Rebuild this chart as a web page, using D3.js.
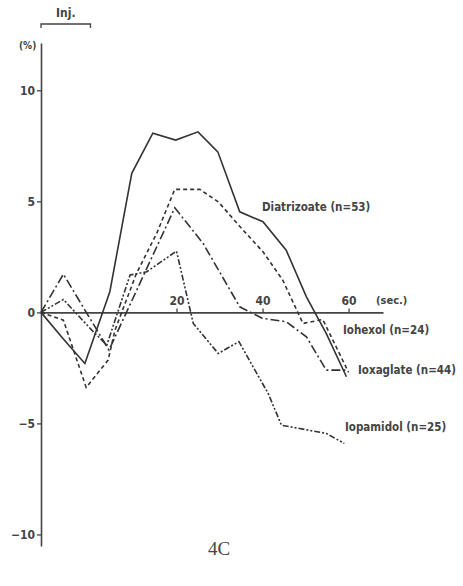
<!DOCTYPE html>
<html>
<head>
<meta charset="utf-8">
<script src="https://cdn.jsdelivr.net/npm/d3@7"></script>
<style>
  body { margin: 0; background: #fff; }
  text { font-family: "Liberation Sans Narrow", "DejaVu Sans Condensed", "Liberation Sans", sans-serif; font-weight: bold; fill: #444; }
</style>
</head>
<body>
<div id="chart"></div>
<script>
// time (sec.) and change (%)
var diatrizoateT = [-11.5, -6.3, -1.3, 4.5, 9.6, 14.5, 19.8, 25, 29.6, 34.7, 40.1, 45.5, 50.2, 54.8, 59.5]
var diatrizoateV = [0, -1.2, -2.3, 0.93, 6.26, 8.07, 7.76, 8.13, 7.23, 4.53, 4.08, 2.8, 0.7, -0.95, -2.9]

var iohexolT = [-11.5, -6.3, -1.0, 4.1, 5.7, 10.7, 15.4, 19.6, 25.4, 29.7, 35.5, 40.1, 44.7, 49.4, 54.0, 60.0]
var iohexolV = [0, -0.35, -3.38, -2.15, -0.8, 1.76, 3.56, 5.54, 5.54, 4.98, 3.7, 2.73, 1.45, -0.5, -0.32, -2.7]

var ioxaglateT = [-11.5, -6.3, 4.3, 19.6, 26.2, 34.7, 40.0, 45.5, 50.2, 54.8, 59.5]
var ioxaglateV = [0, 1.72, -1.7, 4.71, 3.1, 0.25, -0.27, -0.42, -1.1, -2.6, -2.6]

var iopamidolT = [-11.5, -6.3, 0.3, 3.8, 9.2, 13.1, 20.0, 23.9, 29.7, 34.5, 41.3, 44.4, 54.8, 59.0]
var iopamidolV = [0, 0.58, -0.8, -1.47, 1.68, 1.83, 2.76, -0.5, -1.85, -1.32, -3.65, -5.08, -5.45, -5.9]

var seriesNames = ["Diatrizoate (n=53)", "Iohexol (n=24)", "Ioxaglate (n=44)", "Iopamidol (n=25)"]
var yTicks = [-10, -5, 0, 5, 10]
var xTicks = [20, 40, 60]

var width = 463, height = 586

var svg = d3.select("#chart").append("svg")
    .attr("width", width)
    .attr("height", height)

// scales (the y axis sits a bit before injection end, at about -11.5 sec)
var x = d3.scaleLinear().domain([-11.5, 68]).range([41, 383])
var y = d3.scaleLinear().domain([-10.52, 12.13]).range([546, 43])

// y axis
var yAxis = svg.append("g")
    .attr("transform", "translate(" + x(-11.5) + ",0)")
    .call(d3.axisLeft(y).tickValues(yTicks).tickSize(4).tickSizeOuter(0).tickPadding(2))
yAxis.select(".domain").attr("stroke", "#444").attr("stroke-width", 1.6)
yAxis.selectAll(".tick line").attr("stroke", "#444").attr("stroke-width", 1.3)
yAxis.selectAll("text").style("font-size", "12px").attr("fill", "#444")

// x axis along zero, ticks pointing up
var xAxis = svg.append("g")
    .attr("transform", "translate(0," + y(0) + ")")
    .call(d3.axisTop(x).tickValues(xTicks).tickSize(4).tickSizeOuter(0).tickPadding(3))
xAxis.select(".domain").attr("stroke", "#444").attr("stroke-width", 1.6)
xAxis.selectAll(".tick line").attr("stroke", "#444").attr("stroke-width", 1.3)
xAxis.selectAll("text").style("font-size", "12px").attr("fill", "#444")

svg.append("text").attr("x", 376).attr("y", y(0) - 8).style("font-size", "11px").text("(sec.)")
svg.append("text").attr("x", 19).attr("y", 49).style("font-size", "10px").text("(%)")

// injection bracket
svg.append("path")
    .attr("d", "M" + x(-11.5) + ",28 V24 H" + x(0) + " V28")
    .attr("fill", "none").attr("stroke", "#444").attr("stroke-width", 1.3)
svg.append("text").attr("x", (x(-11.5) + x(0)) / 2).attr("y", 17)
    .attr("text-anchor", "middle").style("font-size", "12px").text("Inj.")

// curves
var curves = [
    {t: diatrizoateT, v: diatrizoateV, dash: null},
    {t: iohexolT, v: iohexolV, dash: "4,3"},
    {t: ioxaglateT, v: ioxaglateV, dash: "9,3,2,3"},
    {t: iopamidolT, v: iopamidolV, dash: "6,2,2,2,2,2"}
]

var line = d3.line()
    .x(function(d) { return x(d[0]); })
    .y(function(d) { return y(d[1]); })

curves.forEach(function(c) {
    var pts = c.t.map(function(t, i) { return [t, c.v[i]]; })
    svg.append("path")
        .datum(pts)
        .attr("d", line)
        .attr("fill", "none")
        .attr("stroke", "#333")
        .attr("stroke-width", 1.6)
        .attr("stroke-dasharray", c.dash)
})

// series labels
var labelPos = [[262, 211], [343, 334], [358, 374], [345, 431]]
seriesNames.forEach(function(name, i) {
    svg.append("text")
        .attr("x", labelPos[i][0])
        .attr("y", labelPos[i][1])
        .style("font-size", "11.5px")
        .text(name)
})

// panel label
svg.append("text")
    .attr("x", 219).attr("y", 555)
    .attr("text-anchor", "middle")
    .style("font-family", "'Liberation Serif', 'DejaVu Serif', serif")
    .style("font-weight", "normal")
    .style("font-size", "19px")
    .text("4C")
</script>
</body>
</html>
